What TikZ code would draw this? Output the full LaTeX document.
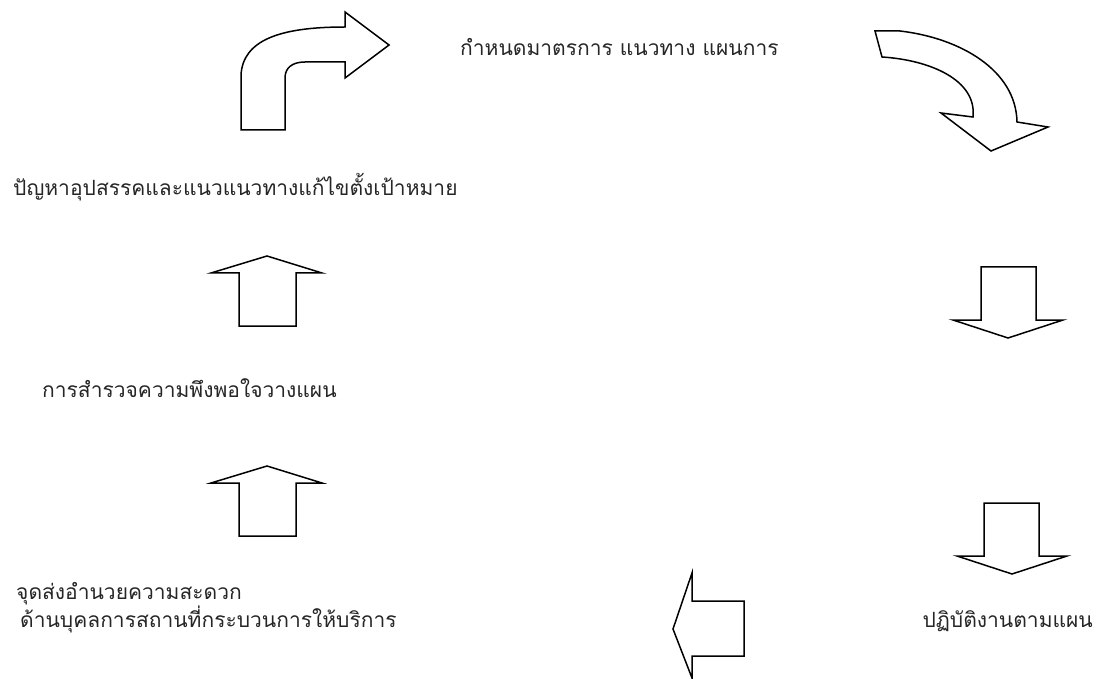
\documentclass[tikz,border=0pt]{standalone}
\usepackage{fontspec}
\newfontfamily\thaifont[Script=Thai]{Loma}
\begin{document}
\begin{tikzpicture}[x=1pt,y=-1pt,
  blockarrow/.style={draw=black,fill=white,line width=1.5pt,line join=miter},
  label/.style={font=\thaifont\fontsize{21}{25}\selectfont,inner sep=0pt,anchor=base west,text=black!85}]
\useasboundingbox (0,0) rectangle (1098,679);
% curved arrow top-left
\draw[blockarrow] (241,130) -- (241,75) .. controls (243,40) and (280,27) .. (345,27)
  -- (345,12) -- (389,45) -- (345,78) -- (345,62) -- (305,62)
  .. controls (292,62) and (285,68) .. (285,78) -- (285,130) -- cycle;
% curved arrow top-right
\draw[blockarrow] (875,31) -- (900,31) .. controls (960,38) and (1016,70) .. (1017,122)
  -- (1048,127) -- (991,151) -- (941,113) -- (973,117)
  .. controls (977,80) and (930,60) .. (882,57) -- cycle;
% down arrow right 1
\draw[blockarrow] (981,267) -- (1036,267) -- (1036,320) -- (1063,320) -- (1008,338)
  -- (953,320) -- (981,320) -- cycle;
% down arrow right 2
\draw[blockarrow] (984,503) -- (1039,503) -- (1039,556) -- (1067,556) -- (1012,574)
  -- (957,556) -- (984,556) -- cycle;
% left arrow bottom
\draw[blockarrow] (744,601) -- (744,656) -- (692,656) -- (692,678) -- (673,629)
  -- (692,573) -- (692,601) -- cycle;
% up arrow 1
\draw[blockarrow] (239,326) -- (239,273) -- (211,273) -- (267,256) -- (322,273)
  -- (296,273) -- (296,326) -- cycle;
% up arrow 2
\draw[blockarrow] (239,536) -- (239,483) -- (211,483) -- (267,466) -- (322,483)
  -- (296,483) -- (296,536) -- cycle;
% texts
\node[label] (t1) at (460,56) {กำหนดมาตรการ แนวทาง แผนการ};
\node[label] (t2) at (13,196) {ปัญหาอุปสรรคและแนวแนวทางแก้ไขตั้งเป้าหมาย};
\node[label] (t3) at (42,397) {การสำรวจความพึงพอใจวางแผน};
\node[label] (t4) at (16,599) {จุดส่งอำนวยความสะดวก};
\node[label] (t5) at (20,627) {ด้านบุคลการสถานที่กระบวนการให้บริการ};
\node[label,anchor=base east] (t6) at (1093,627) {ปฏิบัติงานตามแผน};
\end{tikzpicture}
\end{document}
